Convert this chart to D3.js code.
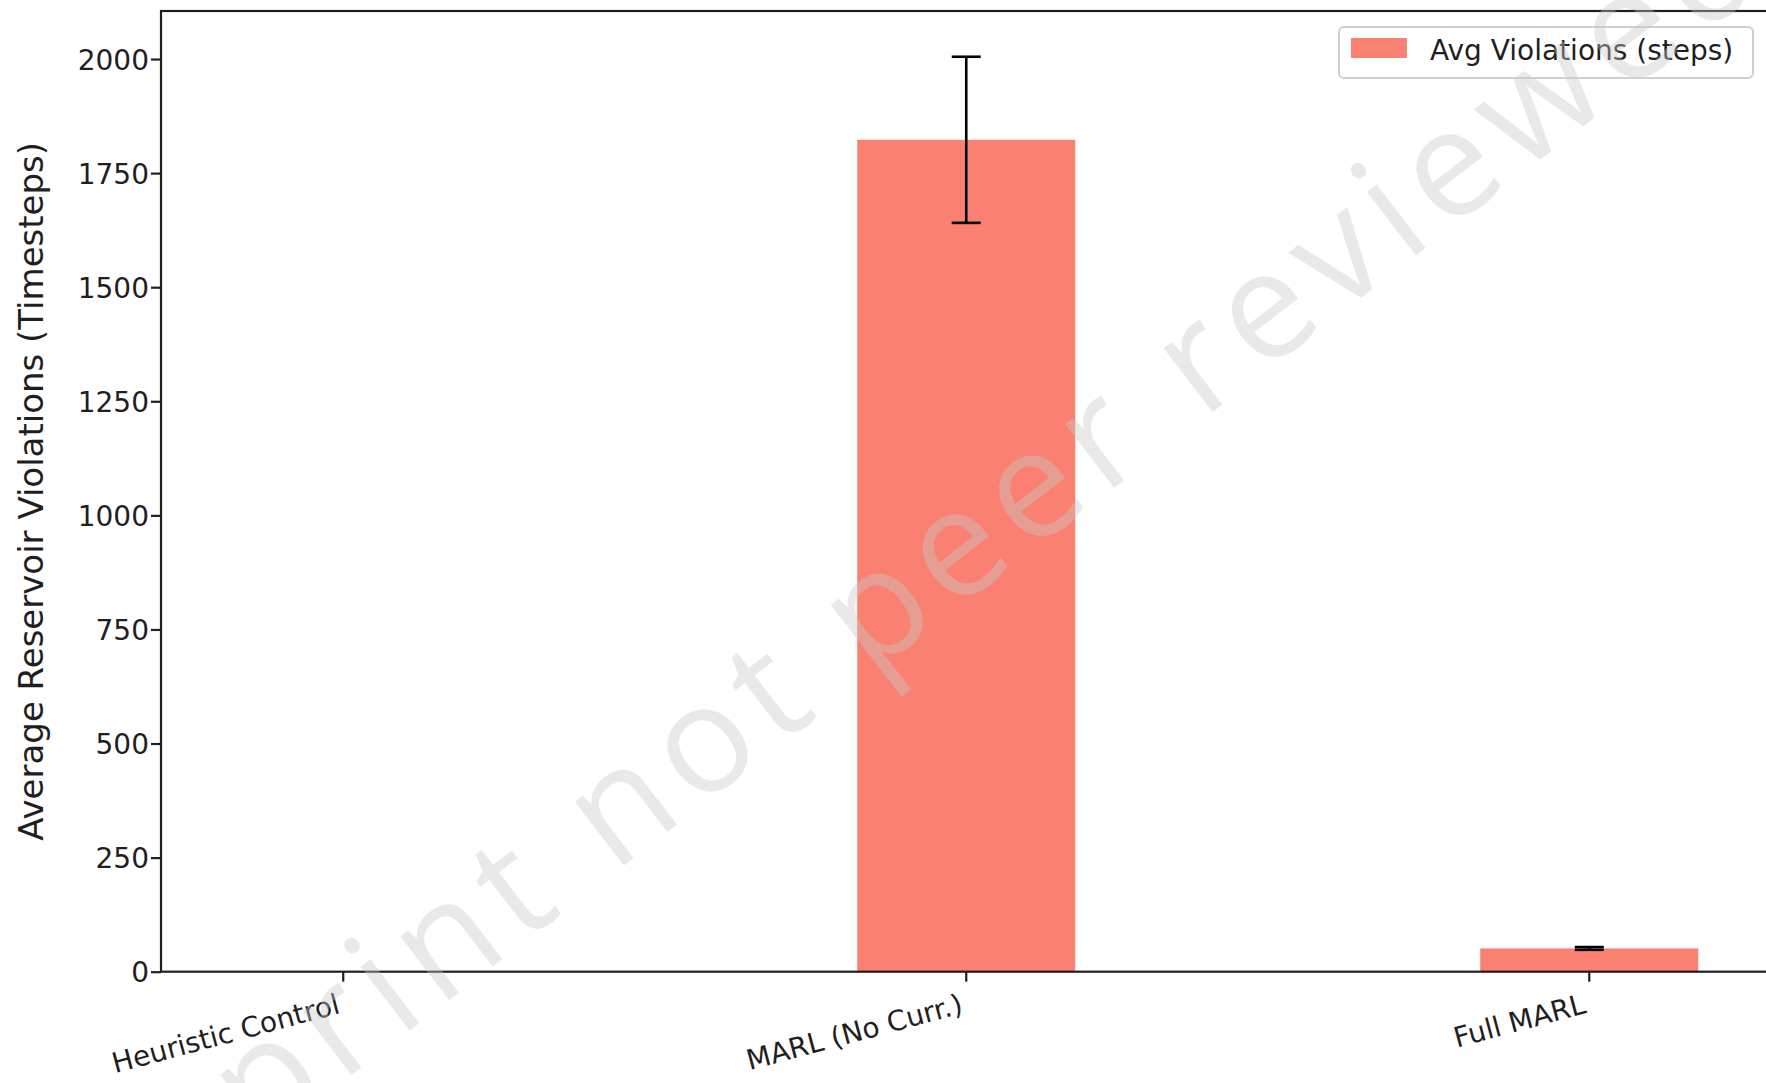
<!DOCTYPE html>
<html>
<head>
<meta charset="utf-8">
<script src="https://cdn.jsdelivr.net/npm/d3@7"></script>
<style>
  html, body { margin: 0; padding: 0; background: #fff; }
  svg { display: block; }
</style>
</head>
<body>
<svg id="chart" width="1766" height="1083"></svg>
<script>
// ---- data ----
const categories = ["Heuristic Control", "MARL (No Curr.)", "Full MARL"];
const avgViolations = [0, 1823, 51];
const violationErrors = [0, 182, 3];
const yTicks = [0, 250, 500, 750, 1000, 1250, 1500, 1750, 2000];
const legendLabel = "Avg Violations (steps)";
const yAxisLabel = "Average Reservoir Violations (Timesteps)";
const watermarkText = "Preprint not peer reviewed";

// ---- layout ----
const W = 1766, H = 1083;
const plot = { left: 161, top: 11, right: 1771.5, bottom: 971.7 };
const barColor = "salmon";
const inkColor = "#1f1f1f";
const tickFont = 28;

const svg = d3.select("#chart");

const x = d3.scaleBand()
  .domain(categories)
  .range([plot.left, plot.right])
  .paddingInner(0.65)
  .paddingOuter(0.1175);

const yMax = d3.max(avgViolations.map((v, i) => v + violationErrors[i])) * 1.05;
const y = d3.scaleLinear().domain([0, yMax]).range([plot.bottom, plot.top]);

const rows = categories.map((c, i) => ({ c, v: avgViolations[i], e: violationErrors[i] }));

// bars
svg.append("g").selectAll("rect").data(rows).join("rect")
  .attr("x", d => x(d.c))
  .attr("width", x.bandwidth())
  .attr("y", d => y(d.v))
  .attr("height", d => y(0) - y(d.v))
  .attr("fill", barColor);

// error bars
const eb = svg.append("g").attr("stroke", "#000").attr("stroke-width", 2.6);
rows.filter(d => d.e > 0).forEach(d => {
  const cx = x(d.c) + x.bandwidth() / 2;
  eb.append("line").attr("x1", cx).attr("x2", cx).attr("y1", y(d.v - d.e)).attr("y2", y(d.v + d.e));
  [d.v - d.e, d.v + d.e].forEach(val => {
    eb.append("line").attr("x1", cx - 14.5).attr("x2", cx + 14.5).attr("y1", y(val)).attr("y2", y(val));
  });
});

// y axis
const yAxis = d3.axisLeft(y).tickValues(yTicks).tickSize(10).tickPadding(10).tickFormat(d3.format("d"));
const gy = svg.append("g").attr("transform", `translate(${plot.left},0)`).call(yAxis);
gy.select(".domain").remove();
gy.selectAll(".tick line").attr("stroke", inkColor).attr("stroke-width", 2.2);
gy.selectAll(".tick text").attr("fill", inkColor).attr("font-family", "DejaVu Sans")
  .attr("font-size", tickFont).attr("x", -12).attr("dy", "0.36em");

// x axis
const xAxis = d3.axisBottom(x).tickSize(10).tickPadding(0);
const gx = svg.append("g").attr("transform", `translate(0,${plot.bottom})`).call(xAxis);
gx.select(".domain").remove();
gx.selectAll(".tick line").attr("stroke", inkColor).attr("stroke-width", 2.2);
gx.selectAll(".tick text")
  .attr("fill", inkColor).attr("font-family", "DejaVu Sans").attr("font-size", tickFont)
  .attr("text-anchor", "end").attr("y", 0).attr("dy", 0)
  .attr("transform", "translate(-2,41) rotate(-15)");

// spines
const sp = svg.append("g").attr("stroke", inkColor).attr("stroke-width", 2.2).attr("fill", "none");
sp.append("rect").attr("x", plot.left).attr("y", plot.top)
  .attr("width", plot.right - plot.left).attr("height", plot.bottom - plot.top);

// y label
svg.append("text")
  .attr("transform", `translate(43,${(plot.top + plot.bottom) / 2}) rotate(-90)`)
  .attr("text-anchor", "middle")
  .attr("font-family", "DejaVu Sans").attr("font-size", 34).attr("fill", inkColor)
  .text(yAxisLabel);

// legend
const lg = svg.append("g").attr("transform", "translate(1339,27)");
lg.append("rect").attr("width", 414).attr("height", 51).attr("rx", 5)
  .attr("fill", "#fff").attr("fill-opacity", 0.8).attr("stroke", "#d0d0d0").attr("stroke-width", 2);
lg.append("rect").attr("x", 12).attr("y", 11).attr("width", 56).attr("height", 20).attr("fill", barColor);
lg.append("text").attr("x", 91).attr("y", 33)
  .attr("font-family", "DejaVu Sans").attr("font-size", tickFont).attr("fill", inkColor)
  .text(legendLabel);

// watermark
svg.append("text")
  .attr("transform", "translate(44,1312) rotate(-37.6)")
  .attr("font-family", "Open Sans").attr("font-size", 150).attr("letter-spacing", 12)
  .attr("fill", "rgb(200,200,200)").attr("fill-opacity", 0.4)
  .text(watermarkText);
</script>
</body>
</html>
